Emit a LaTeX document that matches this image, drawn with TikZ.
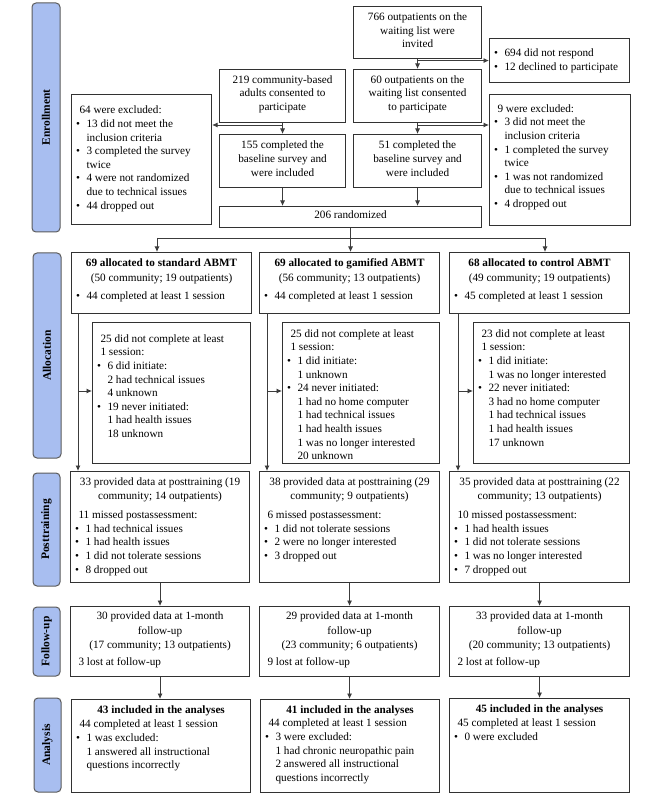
\documentclass[tikz,border=0pt]{standalone}
\usepackage{fontspec}
\setmainfont{Liberation Serif}
\usetikzlibrary{arrows.meta}
\definecolor{lblue}{RGB}{168,190,240}
\definecolor{bord}{RGB}{50,50,50}
\definecolor{arrc}{RGB}{60,60,60}
\newlength\bulw \setlength\bulw{11pt}
\newcommand\rowstrut{\vrule height 8.5pt depth 3pt width 0pt}
\newcommand\rowC[1]{\hbox to \hsize{\rowstrut\hfil #1\hfil}}
\newcommand\rowL[1]{\hbox to \hsize{\rowstrut\hspace*{4pt}#1\hfil}}
\newcommand\rowB[1]{\hbox to \hsize{\rowstrut\makebox[\bulw][l]{\hspace*{0.5pt}\textbullet}#1\hfil}}
\newcommand\rowI[1]{\hbox to \hsize{\rowstrut\hspace*{\bulw}#1\hfil}}
\newcommand\mkbox[7]{%
  \pgfmathsetmacro\bw{#4-#2-8}%
  \pgfmathsetmacro\bh{#5-#3}%
  \node[bx] (#1) at (#2,#3) {\parbox[c][\bh pt][t]{\bw pt}{\vspace*{#6pt}#7}};}
\tikzset{
  bx/.style={draw=bord, line width=1.1pt, anchor=north west, inner xsep=4pt, inner ysep=0pt,
             font=\fontsize{11.2}{13.6}\selectfont, fill=white},
  lbl/.style={draw=bord!80, line width=1pt, rounded corners=4pt, fill=lblue, inner sep=0pt,
              font=\fontsize{11.5}{13}\selectfont\bfseries},
  arr/.style={draw=arrc, line width=0.8pt, -{Latex[length=5.5pt,width=5pt]}},
  plainline/.style={draw=arrc, line width=0.8pt}
}
\begin{document}
\begin{tikzpicture}[x=1pt,y=-1pt]
\useasboundingbox[fill=white] (0,0) rectangle (666,799);

% side labels
\node[lbl, minimum width=28pt, minimum height=229pt] (Lenr) at (46,117.5) {\rotatebox{90}{Enrollment}};
\node[lbl, minimum width=28pt, minimum height=205pt] (Lall) at (47,355.5) {\rotatebox{90}{Allocation}};
\node[lbl, minimum width=27pt, minimum height=113pt] (Lpst) at (46.5,529.5) {\rotatebox{90}{Posttraining}};
\node[lbl, minimum width=27pt, minimum height=69pt] (Lfol) at (46.5,641.5) {\rotatebox{90}{Follow-up}};
\node[lbl, minimum width=27pt, minimum height=94pt] (Lana) at (47.5,745) {\rotatebox{90}{Analysis}};

% enrollment
\mkbox{inv}{353}{6}{481}{58}{5.5}{\rowC{766 outpatients on the}\rowC{waiting list were}\rowC{invited}}
\mkbox{nr}{489}{38}{629}{82}{9.5}{\rowB{694 did not respond}\rowB{12 declined to participate}}
\mkbox{con}{353}{69}{481}{122}{5.2}{\rowC{60 outpatients on the}\rowC{waiting list consented}\rowC{to participate}}
\mkbox{exr}{489}{94}{630}{225}{9.2}{\rowL{9 were excluded:}\rowB{3 did not meet the}\rowI{inclusion criteria}\rowB{1 completed the survey}\rowI{twice}\rowB{1 was not randomized}\rowI{due to technical issues}\rowB{4 dropped out}}
\mkbox{bsr}{353}{134}{481}{187}{5.9}{\rowC{51 completed the}\rowC{baseline survey and}\rowC{were included}}
\mkbox{cml}{219}{69}{345}{122}{5.2}{\rowC{219 community-based}\rowC{adults consented to}\rowC{participate}}
\mkbox{bsl}{219}{134}{345}{187}{5.9}{\rowC{155 completed the}\rowC{baseline survey and}\rowC{were included}}
\mkbox{exl}{71}{94}{211}{224}{10.9}{\rowL{64 were excluded:}\rowB{13 did not meet the}\rowI{inclusion criteria}\rowB{3 completed the survey}\rowI{twice}\rowB{4 were not randomized}\rowI{due to technical issues}\rowB{44 dropped out}}
\mkbox{rnd}{219}{206}{481}{227}{3.9}{\rowC{206 randomized}}

% allocation
\mkbox{as}{71}{252}{251}{313}{5.5}{\rowC{\bfseries 69 allocated to standard ABMT}\vspace{1pt}\rowC{(50 community; 19 outpatients)}\vspace{5pt}\rowB{44 completed at least 1 session}}
\mkbox{ag}{259}{252}{439}{313}{5.5}{\rowC{\bfseries 69 allocated to gamified ABMT}\vspace{1pt}\rowC{(56 community; 13 outpatients)}\vspace{5pt}\rowB{44 completed at least 1 session}}
\mkbox{ac}{449}{252}{629}{313}{5.5}{\rowC{\bfseries 68 allocated to control ABMT}\vspace{1pt}\rowC{(49 community; 19 outpatients)}\vspace{5pt}\rowB{45 completed at least 1 session}}

\mkbox{ds}{92}{322}{250}{463}{11.2}{\rowL{25 did not complete at least}\rowL{1 session:}\rowB{6 did initiate:}\rowI{2 had technical issues}\rowI{4 unknown}\rowB{19 never initiated:}\rowI{1 had health issues}\rowI{18 unknown}}
\mkbox{dg}{282}{322}{439}{463}{6.2}{\rowL{25 did not complete at least}\rowL{1 session:}\rowB{1 did initiate:}\rowI{1 unknown}\rowB{24 never initiated:}\rowI{1 had no home computer}\rowI{1 had technical issues}\rowI{1 had health issues}\rowI{1 was no longer interested}\rowI{20 unknown}}
\mkbox{dc}{473}{322}{629}{463}{6.2}{\rowL{23 did not complete at least}\rowL{1 session:}\rowB{1 did initiate:}\rowI{1 was no longer interested}\rowB{22 never initiated:}\rowI{3 had no home computer}\rowI{1 had technical issues}\rowI{1 had health issues}\rowI{17 unknown}}

% posttraining
\mkbox{ps}{70}{471}{249}{582}{5.9}{\rowC{33 provided data at posttraining (19}\rowC{community; 14 outpatients)}\vspace{5.5pt}\rowL{11 missed postassessment:}\rowB{1 had technical issues}\rowB{1 had health issues}\rowB{1 did not tolerate sessions}\rowB{8 dropped out}}
\mkbox{pg}{259}{471}{439}{582}{5.9}{\rowC{38 provided data at posttraining (29}\rowC{community; 9 outpatients)}\vspace{5.5pt}\rowL{6 missed postassessment:}\rowB{1 did not tolerate sessions}\rowB{2 were no longer interested}\rowB{3 dropped out}}
\mkbox{pc}{449}{471}{629}{582}{5.9}{\rowC{35 provided data at posttraining (22}\rowC{community; 13 outpatients)}\vspace{5.5pt}\rowL{10 missed postassessment:}\rowB{1 had health issues}\rowB{1 did not tolerate sessions}\rowB{1 was no longer interested}\rowB{7 dropped out}}

% follow-up
\mkbox{fs}{70}{606}{249}{676}{4.9}{\rowC{30 provided data at 1-month}\vspace{0.8pt}\rowC{follow-up}\vspace{0.8pt}\rowC{(17 community; 13 outpatients)}\vspace{3.5pt}\rowL{3 lost at follow-up}}
\mkbox{fg}{259}{606}{439}{676}{4.9}{\rowC{29 provided data at 1-month}\vspace{0.8pt}\rowC{follow-up}\vspace{0.8pt}\rowC{(23 community; 6 outpatients)}\vspace{3.5pt}\rowL{9 lost at follow-up}}
\mkbox{fc}{449}{606}{629}{676}{4.9}{\rowC{33 provided data at 1-month}\vspace{0.8pt}\rowC{follow-up}\vspace{0.8pt}\rowC{(20 community; 13 outpatients)}\vspace{3.5pt}\rowL{2 lost at follow-up}}

% analysis
\mkbox{ns}{71}{699}{250}{792}{5.2}{\rowC{\bfseries 43 included in the analyses}\vspace{1pt}\rowL{44 completed at least 1 session}\rowB{1 was excluded:}\rowI{1 answered all instructional}\rowI{questions incorrectly}}
\mkbox{ng}{260}{699}{439}{792}{5.2}{\rowC{\bfseries 41 included in the analyses}\rowL{44 completed at least 1 session}\rowB{3 were excluded:}\rowI{1 had chronic neuropathic pain}\rowI{2 answered all instructional}\rowI{questions incorrectly}}
\mkbox{nc}{449}{698}{629}{792}{5.8}{\rowC{\bfseries 45 included in the analyses}\vspace{0.5pt}\rowL{45 completed at least 1 session}\rowB{0 were excluded}}

% enrollment connectors
\draw[arr] (inv.south) -- (con.north);
\coordinate (j1) at (inv.south |- nr.west);
\draw[arr] (j1) -- (nr.west);
\draw[arr] (con.south) -- (bsr.north);
\coordinate (j2) at (417,125);
\draw[arr] (j2) -- (j2 -| exr.west);
\draw[arr] (cml.south) -- (bsl.north);
\coordinate (j3) at (282,125);
\draw[arr] (j3) -- (j3 -| exl.east);
\draw[arr] (bsl.south) -- (bsl.south |- rnd.north);
\draw[arr] (bsr.south) -- (bsr.south |- rnd.north);

% randomization split
\draw[arr] (rnd.south) -- (rnd.south |- ag.north);
\coordinate (h1) at (157,238);
\coordinate (h2) at (545,238);
\draw[plainline] (h1) -- (h2);
\draw[arr] (h1) -- (h1 |- as.north);
\draw[arr] (h2) -- (h2 |- ac.north);

% allocation to posttraining
\coordinate (vs) at (78,313);
\coordinate (bs) at (78,391);
\draw[arr] (vs) -- (vs |- ps.north);
\draw[arr] (bs) -- (bs -| ds.west);
\coordinate (vg) at (267,313);
\coordinate (bg) at (267,391);
\draw[arr] (vg) -- (vg |- pg.north);
\draw[arr] (bg) -- (bg -| dg.west);
\coordinate (vc) at (458,313);
\coordinate (bc) at (458,391);
\draw[arr] (vc) -- (vc |- pc.north);
\draw[arr] (bc) -- (bc -| dc.west);

% posttraining -> follow-up -> analysis
\draw[arr] (ps.south) -- (fs.north);
\draw[arr] (pg.south) -- (fg.north);
\draw[arr] (pc.south) -- (fc.north);
\draw[arr] (fs.south) -- (fs.south |- ns.north);
\draw[arr] (fg.south) -- (fg.south |- ng.north);
\draw[arr] (fc.south) -- (fc.south |- nc.north);
\end{tikzpicture}
\end{document}
